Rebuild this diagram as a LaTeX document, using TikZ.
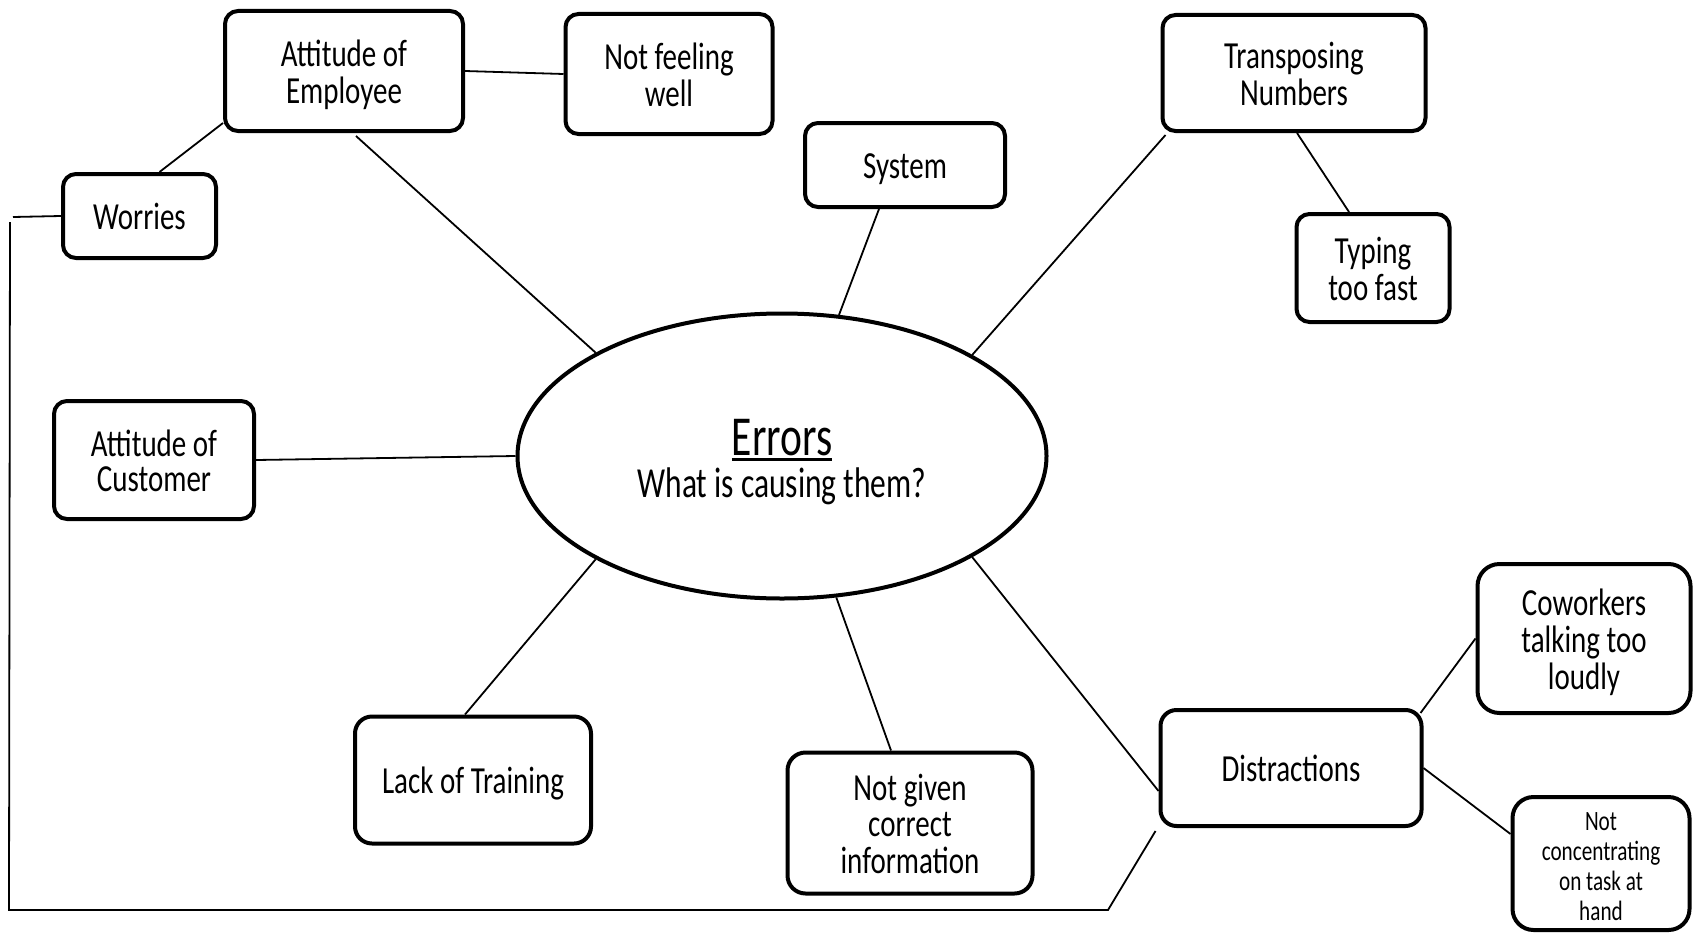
\documentclass[tikz,border=0pt]{standalone}
\usepackage{fontspec}
\setmainfont{Carlito}
\usepackage{graphicx}
\usetikzlibrary{shapes.geometric}
\newcommand{\boxtxt}[3]{\raisebox{-6pt}[\height][\depth]{\scalebox{1}[1.32]{\fontsize{#1}{#2}\selectfont\begin{tabular}{@{}c@{}}#3\end{tabular}}}}
\newcommand{\myul}[1]{\setbox0\hbox{#1}\rlap{\rule[-3.8pt]{\wd0}{2.1pt}}\box0}
\tikzset{
  box/.style={draw, line width=4pt, rounded corners=13pt, inner sep=0pt, align=center},
  link/.style={line width=1.8pt}
}
\begin{document}
\begin{tikzpicture}[x=1pt,y=-1pt]
\useasboundingbox (0,0) rectangle (1696,934);
% central ellipse
\node[ellipse, draw, line width=4pt, minimum width=529pt, minimum height=285pt, inner sep=0pt] (ell) at (782,456)
  {\raisebox{-9pt}[\height][\depth]{\scalebox{1}[1.36]{\fontsize{31.5}{31}\selectfont\begin{tabular}{@{}c@{}}{\fontsize{41.5}{31}\selectfont\myul{Errors}}\\What is causing them?\end{tabular}}}};
% boxes
\node[box, minimum width=238pt, minimum height=120pt] (emp) at (344,71) {\boxtxt{29}{27}{Attitude of\\Employee}};
\node[box, minimum width=207pt, minimum height=120pt] (nfw) at (669,74) {\boxtxt{29}{27}{Not feeling\\well}};
\node[box, minimum width=200pt, minimum height=84pt] (sys) at (905,165) {\boxtxt{29}{27}{System}};
\node[box, minimum width=263pt, minimum height=116pt] (trn) at (1294,73) {\boxtxt{29}{27}{Transposing\\Numbers}};
\node[box, minimum width=153pt, minimum height=108pt] (typ) at (1373,268) {\boxtxt{29}{27}{Typing\\too fast}};
\node[box, minimum width=153pt, minimum height=84pt] (wor) at (139.5,216) {\boxtxt{29}{27}{Worries}};
\node[box, minimum width=200pt, minimum height=118pt] (cus) at (154,460) {\boxtxt{29}{27}{Attitude of\\Customer}};
\node[box, rounded corners=17pt, minimum width=236pt, minimum height=127pt] (trg) at (473,780) {\boxtxt{29}{27}{Lack of Training}};
\node[box, rounded corners=18pt, minimum width=245pt, minimum height=141pt] (ngi) at (910,823) {\boxtxt{29}{27}{Not given\\correct\\information}};
\node[box, rounded corners=16pt, minimum width=261pt, minimum height=116pt] (dis) at (1291,768) {\boxtxt{29}{27}{Distractions}};
\node[box, rounded corners=22pt, minimum width=213pt, minimum height=149pt] (cow) at (1584,638.5) {\boxtxt{29}{27}{Coworkers\\talking too\\loudly}};
\node[box, rounded corners=21pt, minimum width=177pt, minimum height=133pt] (nct) at (1601,863.5) {\boxtxt{21.2}{22.5}{Not\\concentrating\\on task at\\hand}};
% free-end coordinates of the long loop line
\coordinate (c1) at (1108,910);
\coordinate (c2) at (9,910);
\coordinate (c3) at (10,222);
\coordinate (c4) at (13,217);
% connectors
\draw[link] ([xshift=12pt,yshift=-3pt]emp.south) -- (ell.151);
\draw[link] (emp.east) -- (nfw.west);
\draw[link] ([xshift=20pt]wor.north) -- ([yshift=10pt]emp.south west);
\draw[link] ([xshift=-26pt]sys.south) -- (ell.68.5);
\draw[link] ([xshift=5pt,yshift=-2pt]trn.south west) -- (ell.28);
\draw[link] ([xshift=3pt]trn.south) -- ([xshift=-24pt]typ.north);
\draw[link] (cus.east) -- (ell.west);
\draw[link] ([xshift=-8pt]trg.north) -- (ell.-151);
\draw[link] ([xshift=-19pt]ngi.north) -- (ell.-69);
\draw[link] ([yshift=-23pt]dis.west) -- (ell.-28.6);
\draw[link] ([xshift=-3pt,yshift=-5pt]dis.north east) -- (cow.west);
\draw[link] (dis.east) -- ([yshift=-39pt]nct.north west);
\draw[link] ([xshift=-3pt,yshift=-3pt]dis.south west) -- (c1) -- (c2) -- (c3);
\draw[link] (c4) -- (wor.west);
\end{tikzpicture}
\end{document}
